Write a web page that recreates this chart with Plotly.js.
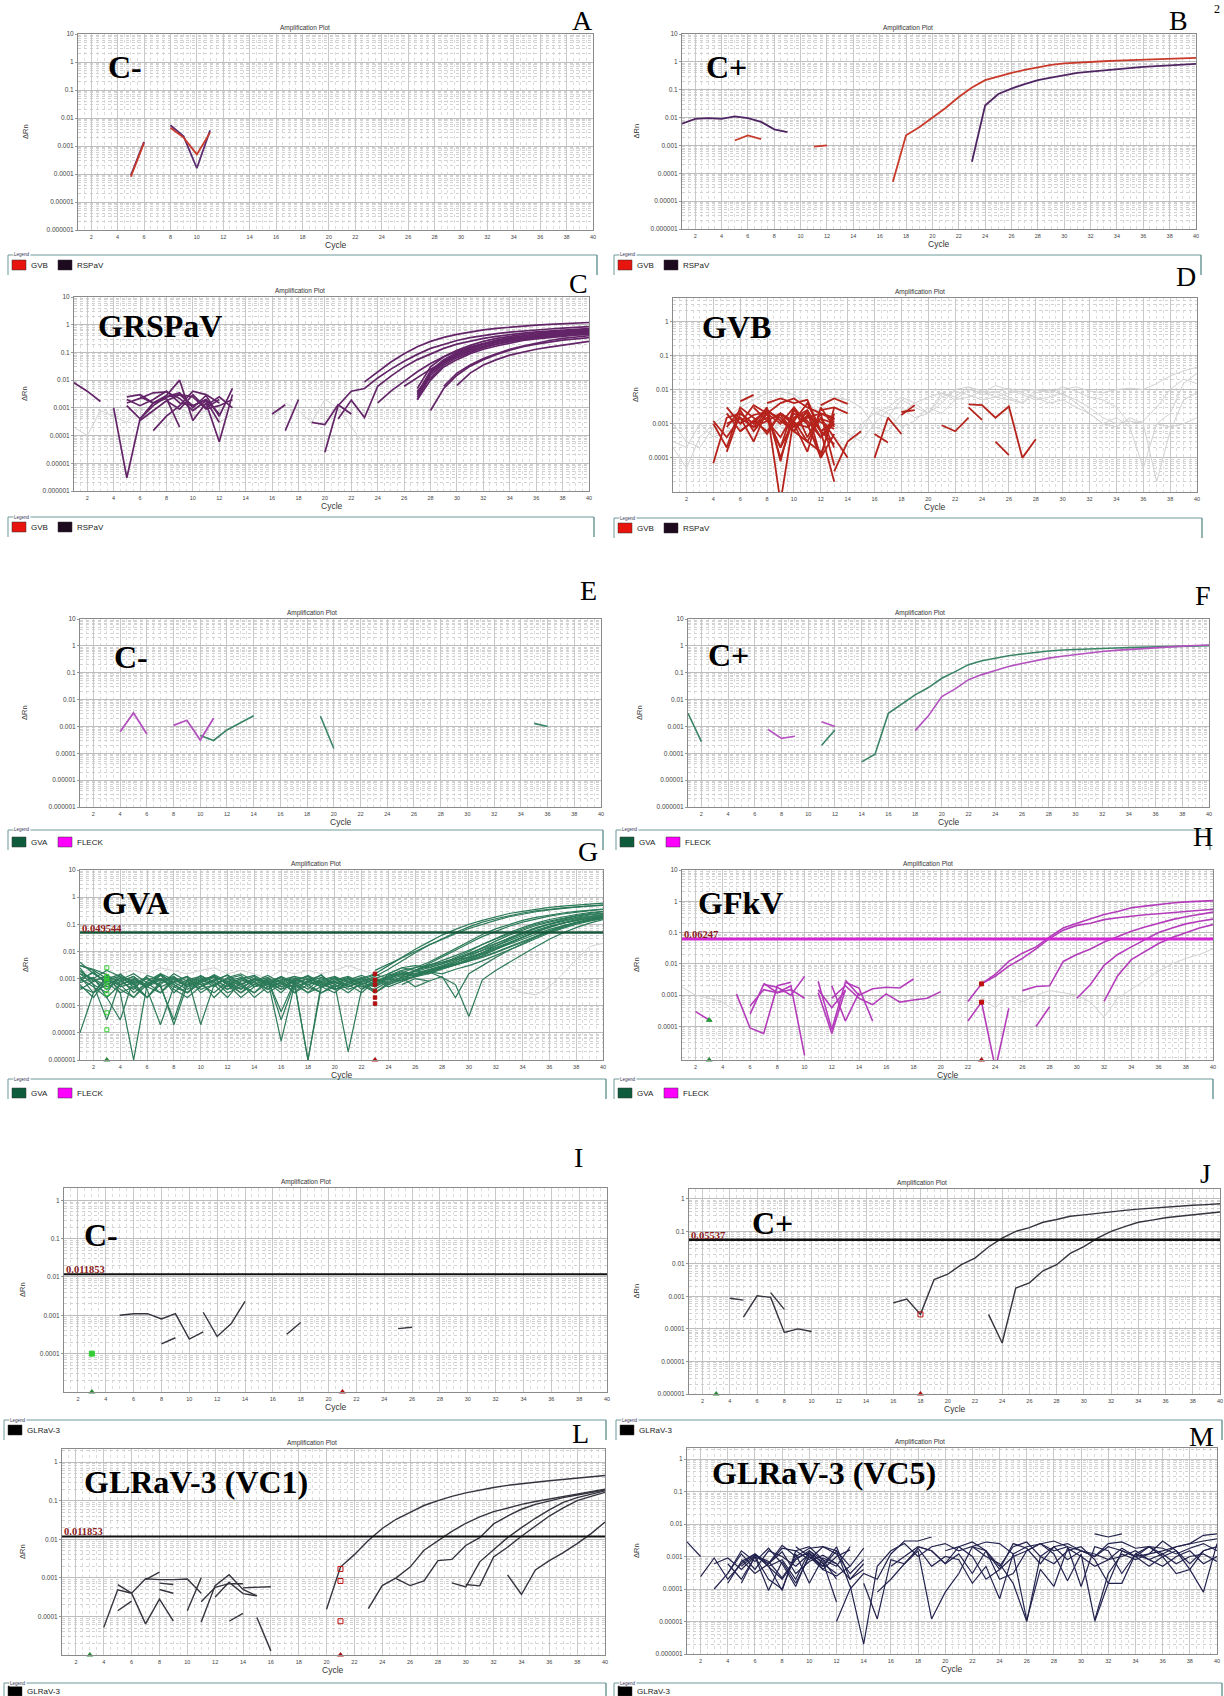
<!DOCTYPE html>
<html><head><meta charset="utf-8">
<script src="https://cdn.plot.ly/plotly-3.0.1.min.js"></script>
<style>body{margin:0;background:#fff}#chart{width:1224px;height:1696px}</style>
</head><body><div id="chart"></div>
<script>
// ================= DATA =================
const CYCLES=[1,2,3,4,5,6,7,8,9,10,11,12,13,14,15,16,17,18,19,20,21,22,23,24,25,26,27,28,29,30,31,32,33,34,35,36,37,38,39,40];
const X_TICKS=[2,4,6,8,10,12,14,16,18,20,22,24,26,28,30,32,34,36,38,40];
const Y_TICKS_FULL=[10,1,0.1,0.01,0.001,0.0001,0.00001,0.000001];
const Y_TEXT_FULL=['10','1','0.1','0.01','0.001','0.0001','0.00001','0.000001'];
const Y_TICKS_SHORT=[10,1,0.1,0.01,0.001,0.0001];
const Y_TEXT_SHORT=['10','1','0.1','0.01','0.001','0.0001'];

// Panel A (C-, GVB / RSPaV)
const A_GVB=[{s:5,v:[8e-5,1.3e-3]},{s:8,v:[4.5e-3,2e-3,5e-4,3e-3]}];
const A_RSPAV=[{s:5,v:[9e-5,1.4e-3]},{s:8,v:[5.5e-3,2.2e-3,1.6e-4,3.6e-3]}];
// Panel B (C+)
const B_GVB=[{s:5,v:[1.5e-3,2.3e-3,1.7e-3]},{s:11,v:[9e-4,1e-3]},
 {s:17,v:[5e-5,2.3e-3,4.5e-3,1e-2,0.022,0.055,0.12,0.22,0.3,0.4,0.52,0.65,0.78,0.88,0.95,1.0,1.05,1.1,1.15,1.2,1.25,1.3,1.34,1.38]}];
const B_RSPAV=[{s:1,v:[6e-3,9e-3,9.5e-3,9e-3,1.1e-2,9.5e-3,7e-3,3.8e-3,3e-3]},
 {s:23,v:[2.6e-4,0.027,0.07,0.11,0.16,0.22,0.27,0.33,0.4,0.45,0.5,0.55,0.6,0.66,0.7,0.74,0.78,0.85]}];
// Panel C (GRSPaV samples)
const C_RSPAV=[
 {s:1,v:[8e-3,4e-3,1.7e-3]},
 {s:4,v:[1e-3,3e-6,4e-4,1.5e-3,2.5e-3,3e-3,1.2e-3,2e-3,6e-4]},
 {s:5,v:[1.5e-3,2.2e-3,3.5e-3,3.8e-3,2.2e-3,8e-4,1.8e-3,3e-4]},
 {s:5,v:[2.5e-3,3e-3,1.5e-3,2.8e-3,1e-2,3.5e-4,1.5e-3,6e-5,3e-3]},
 {s:5,v:[1.2e-3,4e-4,1.2e-3,2.5e-3,3.5e-3,1e-3,2.8e-3,5e-4,5e-3]},
 {s:5,v:[2e-3,1.2e-3,2e-3,4e-3,1.5e-3,1.2e-3,2e-3,6e-4]},
 {s:6,v:[3.5e-4,8e-4,1.8e-3,3e-3,2.5e-3,9e-4,1.2e-3,2e-3]},
 {s:7,v:[1.5e-4,5e-4,1.2e-3,4e-3,3e-3,1.5e-3]},
 {s:6,v:[2.5e-3,1.5e-3,2.2e-3,2e-4]},
 {s:8,v:[1.8e-3,9e-4,3e-3,1e-3,2e-3]},
 {s:11,v:[1.2e-3,2.5e-3,1e-3]},
 {s:16,v:[6e-4,1.3e-3]},
 {s:17,v:[1.5e-4,2e-3]},
 {s:19,v:[3e-4,2.5e-4,1.3e-3,6e-4]},
 {s:23,v:[8.7e-3,0.02,0.045,0.09,0.16,0.25,0.35,0.45,0.55,0.65,0.74,0.82,0.9,0.97,1.03,1.09,1.14,1.2]},
 {s:20,v:[2.5e-5,1.2e-3,4e-3,5e-3,0.012,0.025,0.048,0.085,0.14,0.2,0.27,0.34,0.41,0.48,0.54,0.6,0.65,0.7,0.75,0.8,0.85]},
 {s:21,v:[4e-4,1.9e-3,4.5e-4,6e-3,0.014,0.03,0.055,0.09,0.14,0.2,0.26,0.32,0.38,0.44,0.5,0.55,0.6,0.64,0.68,0.72]},
 {s:24,v:[1.5e-3,4e-3,9e-3,0.02,0.04,0.07,0.11,0.16,0.21,0.27,0.32,0.37,0.42,0.47,0.52,0.56,0.6]},
 {s:26,v:[6e-3,0.012,0.025,0.045,0.075,0.11,0.15,0.2,0.25,0.3,0.34,0.38,0.42,0.46,0.5]},
 {s:27,v:[5e-3,0.03,0.07,0.12,0.18,0.25,0.32,0.39,0.45,0.51,0.56,0.61,0.66,0.7]},
 {s:27,v:[3e-3,0.022,0.055,0.1,0.15,0.21,0.28,0.34,0.4,0.46,0.51,0.56,0.6,0.64]},
 {s:27,v:[2.5e-3,0.018,0.045,0.085,0.13,0.19,0.25,0.31,0.37,0.42,0.47,0.52,0.56,0.6]},
 {s:27,v:[2e-3,0.015,0.04,0.075,0.12,0.17,0.23,0.28,0.33,0.38,0.43,0.47,0.51,0.55]},
 {s:27,v:[4e-3,0.012,0.035,0.065,0.1,0.15,0.2,0.25,0.3,0.35,0.39,0.43,0.47,0.5]},
 {s:27,v:[2e-3,0.01,0.03,0.055,0.09,0.13,0.17,0.22,0.27,0.31,0.35,0.39,0.42,0.45]},
 {s:27,v:[3.5e-3,0.02,0.05,0.09,0.14,0.2,0.26,0.32,0.38,0.44,0.5,0.55,0.6,0.65]},
 {s:28,v:[8e-4,5e-3,0.015,0.032,0.055,0.085,0.12,0.16,0.2,0.24,0.28,0.31,0.34]},
 {s:29,v:[6e-3,0.018,0.035,0.06,0.09,0.13,0.17,0.22,0.27,0.32,0.36,0.4]},
 {s:30,v:[6.5e-3,0.018,0.035,0.055,0.08,0.105,0.13,0.155,0.18,0.21,0.25]}];
const C_FAINT=[
 {s:1,v:[2e-4,1e-4,8e-4,5e-4,3e-4,1e-3,6e-4,2e-4,1e-3,5e-4,8e-4,3e-4,6e-4]},
 {s:16,v:[4e-4,1.5e-3,8e-4,3e-4,2e-3,1e-3,2e-4,5e-5]}];
// Panel D (GVB samples)
const D_GVB=[
 {s:4,v:[1.2e-3,4e-4,1.5e-3,8e-4,2.5e-3,1.2e-3,6e-4,1.8e-3,4e-4,1e-3]},
 {s:4,v:[7e-5,1.5e-3,2e-3,1e-3,1.5e-3,2e-4,1.2e-3,3e-4,1.5e-4]},
 {s:5,v:[3e-3,1e-3,3.5e-3,2e-3,4e-3,5.5e-3,3e-3,2e-3,1.5e-3]},
 {s:5,v:[1.5e-4,2e-3,1e-3,3e-3,8e-5,2.5e-3,1.2e-3,4e-4,1.5e-3]},
 {s:5,v:[2e-3,6e-4,1.2e-3,6e-4,2e-3,1e-3,1.5e-4,3e-3,8e-4]},
 {s:5,v:[8e-4,2.5e-3,6e-4,2e-3,1e-3,3e-3,4e-4,2e-3,6e-5]},
 {s:6,v:[4.5e-3,7e-3]},
 {s:6,v:[1.5e-3,3e-4,2.5e-3,5e-6,1.5e-3,2e-3,6e-4,2.5e-4]},
 {s:6,v:[1e-3,1.8e-3,2.2e-3,1.5e-3,6e-4,2.5e-3,1e-4,5e-4]},
 {s:7,v:[3e-3,1.2e-3,4e-4,2e-3,1e-3,1e-4,3e-3]},
 {s:7,v:[6e-4,2e-3,1e-4,1.5e-3,2.5e-3,6e-4,2e-5]},
 {s:8,v:[4e-3,5.5e-3,4e-3,5e-3,6e-4,1.2e-3]},
 {s:8,v:[1.5e-3,2e-4,3e-3,1e-3,1.2e-4,2e-3]},
 {s:9,v:[1.8e-3,6e-4,3e-4,1.5e-3,2e-4]},
 {s:4,v:[1e-3,2e-4,3e-3,1.5e-3,5e-4,2e-3,1e-3,8e-4,1.4e-3,1e-3]},
 {s:9,v:[2e-3,1.2e-3,4e-3,6e-4,1e-3]},
 {s:5,v:[1e-3,1.5e-3,8e-4,1.2e-3,2e-3,9e-4,1.6e-3,1.1e-3,7e-4]},
 {s:6,v:[6e-4,1.2e-3,2.5e-3,1.2e-3,8e-4,1.5e-3,2e-3,1.3e-3]},
 {s:12,v:[3.5e-3,5.5e-3,3.8e-3]},
 {s:12,v:[2.5e-3,3e-3,2e-3]},
 {s:12,v:[1.5e-3,4e-4,1e-4]},
 {s:13,v:[4e-5,3e-4,6e-4]},
 {s:16,v:[1e-4,1.5e-3,5e-4]},
 {s:16,v:[5e-4,2.8e-4]},
 {s:18,v:[1.8e-3,3.5e-3]},
 {s:18,v:[2.2e-3,2.5e-3]},
 {s:21,v:[9e-4,6e-4,1.5e-3]},
 {s:23,v:[3.7e-3,3.5e-3,1.5e-3,3.2e-3,1e-4,3.5e-4]},
 {s:23,v:[3e-3,1.3e-3]},
 {s:25,v:[3e-4,1.2e-4]}];
const D_FAINT=[
 {s:1,v:[1e-3,3e-4,2e-4,8e-4,1.5e-3,3e-3,5e-3,8e-3,9e-3,7e-3,4e-3,2e-3,1e-3,5e-4,3e-4,1e-3,2.5e-3,3e-3,1.5e-3,2e-3,6e-3,9e-3,7e-3,5e-3,6e-3,8e-3,9e-3,1e-2,9e-3,1e-2,1.2e-2,9e-3,8e-3,1e-2,1.1e-2,1e-2,1.5e-2,2.5e-2,3.5e-2,4.5e-2]},
 {s:1,v:[3e-4,2e-4,1e-3,4e-4,6e-4,9e-4,2e-3,1.5e-3,8e-4,4e-4,1e-3,3e-3,6e-3,5e-3,3e-3,8e-4,6e-4,2e-3,4e-3,6e-3,8e-3,5e-3,6e-3,9e-3,8e-3,1.1e-2,8e-3,6e-3,4e-3,5e-3,3e-3,2e-3,1e-3,1.5e-3,8e-4,5e-5,1e-3,2e-3,1.5e-2,3e-2]},
 {s:1,v:[2e-4,5e-5,4e-4,1e-3,2e-3,1e-3,4e-4,6e-4,1e-3,2e-3,1.5e-3,8e-4,4e-4,2e-4,6e-4,3e-3,2e-3,8e-4,1.2e-3,3e-3,2e-3,5e-3,1e-2,8e-3,1.3e-2,1e-2,7e-3,5e-3,6e-3,8e-3,4e-3,2e-3,1e-3,8e-4,1.5e-3,1e-3,2e-5,6e-4,5e-3,8e-3]},
 {s:16,v:[2e-3,3e-3,6e-3,4e-3,2e-3,4e-3,1e-2,1.2e-2,9e-3,6e-3,5e-3,4e-3,8e-3,1e-2,7e-3,5e-3,3e-3,1.5e-3,1e-3,1.2e-3,1e-3,1e-3,8e-4,1e-3,1.5e-3]},
 {s:14,v:[3e-4,1e-3,2e-3,1.5e-3,5e-3,3e-3,2e-3,8e-3,6e-3,1.2e-2,7e-3,9e-3,6e-3,4e-3,1e-2,8e-3,1.2e-2,9e-3,6e-3,5e-3,3e-3,1e-3,1.2e-3,3e-3,1e-2,2e-2,1.5e-2]}];
// Panel E (C-, GVA / FLECK)
const E_GVA=[{s:10,v:[4.6e-4,3e-4,7.4e-4,1.4e-3,2.5e-3]},{s:19,v:[2.4e-3,1.5e-4]},{s:35,v:[1.3e-3,1e-3]}];
const E_FLECK=[{s:4,v:[6.3e-4,3.2e-3,5.2e-4]},{s:8,v:[1.1e-3,1.7e-3,3.1e-4,2e-3]}];
// Panel F (C+)
const F_GVA=[{s:1,v:[3.1e-3,2.7e-4]},{s:11,v:[2e-4,7.4e-4]},
 {s:14,v:[4.8e-5,9.3e-5,3.1e-3,6.7e-3,0.015,0.028,0.062,0.11,0.2,0.28,0.35,0.43,0.5,0.58,0.64,0.7,0.74,0.77,0.8,0.83,0.86,0.89,0.92,0.95,0.97,0.99,1.02]}];
const F_FLECK=[{s:7,v:[7.7e-4,3.6e-4,4.3e-4]},{s:11,v:[1.5e-3,1e-3]},
 {s:18,v:[7e-4,2.5e-3,0.013,0.025,0.055,0.085,0.12,0.17,0.22,0.28,0.35,0.41,0.48,0.55,0.62,0.68,0.74,0.8,0.86,0.92,0.98,1.03,1.08]}];
// Panel G (GVA samples)
const G_GVA=[
 {s:1,v:[4e-3,1.5e-3,8e-4,6e-4,1e-3,5e-4,3e-4,8e-4,1.2e-3,6e-4,9e-4,5e-4,1e-3,7e-4,4e-4,8e-4,1e-3,6e-4,3e-4,5e-4,7e-4,1e-3,1.5e-3,3e-3,6e-3,0.012,0.022,0.04,0.065,0.1,0.14,0.19,0.25,0.3,0.36,0.42,0.47,0.52,0.56,0.6]},
 {s:1,v:[3e-3,2e-3,1e-3,4e-4,2e-4,8e-4,1.5e-3,6e-4,3e-4,9e-4,1.2e-3,7e-4,3e-4,6e-4,1e-3,5e-4,8e-4,1.2e-3,6e-4,4e-4,5e-4,8e-4,1.2e-3,2.2e-3,4.5e-3,9e-3,0.017,0.03,0.05,0.08,0.12,0.16,0.21,0.26,0.31,0.36,0.4,0.44,0.48,0.52]},
 {s:1,v:[1e-3,5e-4,2e-4,3e-5,1e-3,6e-4,1.5e-3,9e-4,5e-4,1.1e-3,6e-4,2e-4,8e-4,1.2e-3,5e-4,7e-4,3e-4,9e-4,1.3e-3,6e-4,3e-4,7e-4,5e-4,9e-4,1.3e-3,2e-3,3.5e-3,6e-3,0.011,0.02,0.035,0.055,0.085,0.12,0.16,0.2,0.24,0.28,0.32,0.35]},
 {s:1,v:[2e-3,8e-4,1.2e-3,5e-4,7e-4,2e-4,6e-4,1.5e-3,8e-4,4e-4,6e-4,1e-3,5e-4,3e-4,9e-4,6e-5,8e-4,4e-4,1.1e-3,7e-4,6e-4,3e-4,8e-4,1.2e-3,1.6e-3,2.5e-3,4e-3,7e-3,0.013,0.024,0.042,0.068,0.1,0.14,0.18,0.22,0.26,0.3,0.33,0.36]},
 {s:1,v:[1e-5,3e-4,1.2e-3,8e-4,4e-4,1.3e-3,9e-4,5e-4,3e-4,7e-4,1.4e-3,8e-4,6e-4,1e-3,4e-4,7e-4,1.2e-3,9e-4,5e-4,3e-4,8e-4,1.1e-3,6e-4,1e-3,1.5e-3,1.8e-3,2.5e-3,3.5e-3,6e-3,0.01,0.018,0.03,0.05,0.075,0.11,0.15,0.19,0.23,0.27,0.3]},
 {s:1,v:[1.5e-3,1e-3,5e-4,8e-4,1.2e-3,4e-4,2e-5,5e-4,9e-4,6e-4,3e-4,8e-4,1.1e-3,5e-4,6e-4,9e-4,3e-4,6e-4,9e-4,1.2e-3,7e-4,5e-4,4e-4,8e-4,1.1e-3,1.6e-3,2.2e-3,3e-3,4.5e-3,8e-3,0.014,0.024,0.04,0.062,0.09,0.12,0.16,0.2,0.23,0.26]},
 {s:1,v:[8e-4,1.8e-3,6e-4,1e-3,3e-4,7e-4,1e-3,4e-4,2e-4,5e-4,9e-4,1.3e-3,6e-4,1e-3,8e-4,4e-4,6e-4,1e-6,7e-4,1e-3,5e-4,8e-4,1e-3,6e-4,9e-4,1.2e-3,1.5e-3,2.2e-3,3.2e-3,5.5e-3,9e-3,0.016,0.028,0.045,0.07,0.1,0.14,0.18,0.22,0.25]},
 {s:1,v:[2.5e-3,6e-4,3e-4,1.5e-3,6e-4,1e-3,5e-4,8e-4,1.2e-3,3e-4,6e-4,1e-3,7e-4,2e-4,5e-4,9e-4,1.2e-3,5e-4,3e-4,6e-4,1e-3,4e-4,7e-4,1.1e-3,1.5e-3,1.3e-3,2e-3,2.8e-3,4e-3,6.5e-3,0.011,0.019,0.032,0.05,0.075,0.105,0.14,0.17,0.2,0.23]},
 {s:1,v:[6e-4,2e-4,9e-4,1.2e-3,8e-4,5e-4,1.3e-3,7e-4,4e-4,8e-4,1.2e-3,6e-4,3e-4,8e-4,1.3e-3,7e-4,5e-4,8e-4,1.1e-3,6e-4,2e-6,4e-4,9e-4,5e-4,8e-4,1.2e-3,1.8e-3,2.5e-3,3.2e-3,4.5e-3,7e-3,0.012,0.02,0.033,0.052,0.078,0.11,0.14,0.17,0.2]},
 {s:1,v:[1.2e-3,3e-4,6e-4,9e-4,1.5e-3,7e-4,3e-4,1e-3,6e-4,1.3e-3,7e-4,4e-4,9e-4,6e-4,1e-3,3e-5,7e-4,1e-3,6e-4,8e-4,4e-4,6e-4,1e-3,7e-4,1.1e-3,1.4e-3,2e-3,2.6e-3,3.4e-3,4.8e-3,6.5e-3,9.5e-3,0.015,0.024,0.038,0.058,0.085,0.115,0.15,0.18]},
 {s:1,v:[7e-4,1.1e-3,2e-4,6e-4,9e-4,5e-4,1.4e-3,3e-4,8e-4,1e-3,5e-4,1.1e-3,1.5e-3,8e-4,3e-4,6e-4,9e-4,7e-4,1.4e-3,4e-4,7e-4,1e-3,5e-4,1.3e-3,2e-3,2.5e-3,3e-3,4e-3,5.5e-3,7.5e-3,0.011,0.016,0.025,0.04,0.06,0.085,0.11,0.14,0.17,0.2]},
 {s:1,v:[4e-4,8e-4,1.3e-3,3e-4,5e-4,1e-3,6e-4,2e-5,6e-4,9e-4,1.2e-3,7e-4,4e-4,1e-3,6e-4,1.1e-3,6e-4,3e-4,5e-4,9e-4,1.2e-3,7e-4,5e-4,1.5e-3,2.5e-3,3e-3,2.5e-3,3.5e-3,5e-3,6e-3,8e-3,0.012,0.018,0.028,0.043,0.065,0.09,0.12,0.155,0.19]},
 {s:1,v:[1.8e-3,9e-4,4e-4,1.1e-3,6e-4,2e-4,8e-4,1.1e-3,7e-4,5e-4,8e-4,3e-4,5e-4,8e-4,1.1e-3,5e-4,8e-4,1.3e-3,7e-4,4e-4,6e-4,1e-3,3e-4,6e-4,1e-3,1.2e-3,1.8e-3,1.5e-3,2.2e-3,3e-3,4.5e-3,7e-3,0.011,0.018,0.03,0.048,0.07,0.1,0.13,0.16]},
 {s:1,v:[1e-3,1.6e-3,7e-4,3e-4,1e-6,6e-4,9e-4,1.2e-3,5e-4,8e-4,2e-4,6e-4,1e-3,1.3e-3,7e-4,4e-4,1e-3,6e-4,8e-4,5e-4,9e-4,1.3e-3,8e-4,1.2e-3,1.8e-3,1.5e-3,2e-3,2.6e-3,3.5e-3,5e-3,8e-3,0.013,0.021,0.034,0.053,0.08,0.11,0.15,0.19,0.23]},
 {s:1,v:[5e-4,3e-4,1e-3,1.4e-3,7e-4,1.1e-3,5e-4,3e-5,9e-4,1.2e-3,8e-4,1.4e-3,6e-4,3e-4,7e-4,1.2e-3,4e-4,8e-4,5e-4,1.1e-3,8e-4,5e-4,7e-4,1e-3,8e-4,2e-3,2.8e-3,3.8e-3,5.5e-3,8.5e-3,0.013,0.02,0.031,0.047,0.07,0.1,0.13,0.16,0.19,0.22]},
 {s:1,v:[3e-3,2.2e-3,1.4e-3,6e-4,2e-4,6e-4,1e-3,7e-4,1.2e-3,2e-5,6e-4,1e-3,1.3e-3,5e-4,8e-4,1.1e-3,7e-4,3e-4,8e-4,1.1e-3,5e-4,9e-4,1.4e-3,1e-3,1.5e-3,1.2e-3,1.7e-3,2.3e-3,3.1e-3,4.2e-3,6e-3,9e-3,0.014,0.022,0.034,0.052,0.077,0.11,0.14,0.17]},
 {s:22,v:[6e-4,1e-3,1.5e-3,1.2e-3,2e-3,3e-3,4.5e-3,7e-3,0.011,0.018,0.029,0.045,0.068,0.1,0.13,0.17,0.21,0.25,0.29]},
 {s:24,v:[1.5e-3,2.5e-3,2e-3,1.5e-3,2.5e-3,4e-3,6e-3,9e-3,0.014,0.022,0.035,0.055,0.08,0.11,0.14,0.17,0.2]},
 {s:25,v:[6e-4,1e-3,8e-4,1.2e-3,2e-4,1.5e-3,3e-3,6e-3,0.011,0.02,0.034,0.055,0.08,0.11,0.14,0.17]},
 {s:23,v:[2e-3,3.5e-3,6e-3,0.01,0.017,0.028,0.045,0.07,0.1,0.14,0.19,0.24,0.29,0.34,0.39,0.43,0.47,0.5]},
 {s:1,v:[1.5e-3,6e-4,3e-5,8e-4,1.2e-3,5e-4,9e-4,6e-4,3e-4,7e-4,1.1e-3,4e-4,6e-4,1e-3,7e-4,3e-4,9e-4,1.2e-3,5e-4,7e-4,1e-3,6e-4]},
 {s:2,v:[1e-3,2e-3,1.2e-3,5e-4,2e-4,7e-4,1e-3,5e-4,8e-4,1.3e-3,6e-4,2e-4,5e-4,9e-4,5e-6,6e-4,1e-3]},
 {s:12,v:[8e-4,4e-4,1e-3,6e-4,1.2e-3,7e-4,1e-6,5e-4,8e-4,1.1e-3,6e-4,3e-4,7e-4,1.1e-3,5e-4,8e-4]},
 {s:26,v:[1.2e-3,1.8e-3,1.1e-3,6e-4,4e-5,9e-4,2e-3,4e-3,8e-3,0.015,0.028,0.048,0.075,0.11,0.15]}];
const G_FAINT=[
 {s:1,v:[2e-3,1.5e-3,1e-3,1.5e-3,2e-3,1.5e-3,2.5e-3,2e-3,1.5e-3,2e-3,2.5e-3,1.5e-3,2e-3,1.5e-3,1e-3,2e-3,1.5e-3,2e-3,1.5e-3,2e-3,3e-3,2e-3,1.5e-3]},
 {s:33,v:[5e-4,3e-4,2.5e-4,5e-4,1.5e-3,5e-3,0.015,0.02]}];
const G_THRESHOLD=0.049544;
const G_START_MARKS=[2.5e-3,1.2e-3,1e-3,8e-4,5e-4,2.8e-4,5.5e-5,1.3e-5];
const G_END_MARKS=[1.5e-3,9e-4,6e-4,3.5e-4,2e-4,1.2e-4];
// Panel H (GFkV samples, FLECK)
const H_FLECK=[
 {s:22,v:[6.3e-4,2.3e-3,4.6e-3,0.012,0.022,0.035,0.073,0.14,0.2,0.27,0.38,0.47,0.62,0.7,0.8,0.88,0.96,1.0,1.05]},
 {s:23,v:[2.3e-3,4e-3,8.5e-3,0.015,0.03,0.065,0.12,0.17,0.2,0.26,0.3,0.34,0.37,0.4,0.44,0.48,0.52,0.56]},
 {s:26,v:[1.4e-3,1.9e-3,2e-3,0.012,0.02,0.03,0.05,0.075,0.11,0.15,0.2,0.26,0.32,0.39,0.45]},
 {s:30,v:[8e-4,2.2e-3,9e-3,0.02,0.035,0.06,0.1,0.14,0.19,0.23,0.27]},
 {s:32,v:[6.3e-4,4.2e-3,0.0137,0.025,0.045,0.07,0.1,0.14,0.18]},
 {s:22,v:[1.5e-4,6e-4,5e-6]},
 {s:24,v:[4e-6,3.8e-4]},
 {s:27,v:[1e-4,4.3e-4]},
 {s:5,v:[1.1e-3,9e-5,6e-5,2e-3,2.6e-3]},
 {s:6,v:[2.5e-4,2.2e-3,1.8e-3,1e-3,4e-3]},
 {s:6,v:[4.5e-4,1.5e-3,1.2e-3,1.5e-3,8e-4]},
 {s:7,v:[2.4e-3,1.2e-3,2e-3,1.2e-5]},
 {s:11,v:[2.8e-3,8e-5,2.6e-3,1.7e-3,1.5e-4]},
 {s:11,v:[1.5e-3,4e-4,1.4e-3]},
 {s:12,v:[2e-3,1.5e-4,1.2e-3]},
 {s:12,v:[8e-4,2e-3,8e-4,5e-4,1.1e-3,6e-4,7e-4,8e-4,1.3e-3]},
 {s:13,v:[3e-3,1e-3,1.6e-3,1.8e-3,1.7e-3,3.3e-3]},
 {s:11,v:[1.2e-3,6e-5,1.5e-3]},
 {s:2,v:[3e-4,1.6e-4]}];
const H_FAINT=[
 {s:1,v:[1.8e-3,1e-3,8e-4,6e-4,3e-4]},
 {s:23,v:[8e-4,4e-4,1e-3,6e-4,1e-3,1.4e-3,1.2e-3,1e-3,6e-4,2e-4,8e-4,1.5e-3,3e-3,6e-3,0.01,0.015,0.02,0.03]}];
const H_THRESHOLD=0.06247;
const H_END_MARKS=[2.3e-3,6e-4];
const H_START_MARKS=[1.6e-4];
// Panel I (C-, GLRaV-3)
const I_GL=[{s:5,v:[1e-3,1.1e-3,1.1e-3,8e-4,1.1e-3,2.4e-4,3.7e-4]},{s:11,v:[1.2e-3,2.8e-4,6e-4,2.3e-3]},
 {s:8,v:[1.8e-4,2.6e-4]},{s:17,v:[3.2e-4,6.5e-4]},{s:25,v:[4.5e-4,4.9e-4]}];
const I_THRESHOLD=0.011853;
const I_START_MARKS=[1e-4];
// Panel J (C+, GLRaV-3)
const J_GL=[{s:4,v:[8.8e-4,7.7e-4]},{s:5,v:[2.3e-4,1.04e-3,9.3e-4,7.8e-5,1e-4,8.3e-5]},{s:7,v:[1.3e-3,4e-4]},
 {s:16,v:[6.3e-4,8.3e-4,2.8e-4,3.3e-3,4.8e-3,9.4e-3,0.015,0.033,0.062,0.1,0.13,0.19,0.23,0.29,0.32,0.36,0.4,0.44,0.48,0.52,0.56,0.6,0.63,0.66,0.7]},
 {s:23,v:[2.8e-4,3.7e-5,1.8e-3,2.6e-3,6.1e-3,9.4e-3,0.021,0.034,0.062,0.1,0.14,0.19,0.22,0.26,0.29,0.32,0.35,0.39]}];
const J_THRESHOLD=0.05537;
const J_END_MARKS=[2.8e-4];
// Panel L (GLRaV-3, VC1)
const L_GL=[
 {s:20,v:[1.54e-4,1.9e-3,4e-3,9.3e-3,0.019,0.033,0.05,0.075,0.1,0.13,0.16,0.19,0.22,0.25,0.27,0.3,0.33,0.36,0.39,0.42,0.45]},
 {s:23,v:[1.6e-4,6.3e-4,1e-3,1.9e-3,5.2e-3,9.3e-3,0.016,0.026,0.038,0.052,0.066,0.08,0.095,0.11,0.13,0.15,0.17,0.2]},
 {s:25,v:[9.5e-4,6.3e-4,8.3e-4,2.8e-3,3e-3,6.9e-3,0.011,0.025,0.04,0.06,0.08,0.1,0.12,0.14,0.16,0.19]},
 {s:29,v:[7.4e-4,5.8e-4,2.6e-3,5.5e-3,0.011,0.02,0.035,0.058,0.09,0.12,0.15,0.18]},
 {s:30,v:[6.7e-4,6.2e-4,3.5e-3,6.2e-3,0.012,0.022,0.04,0.065,0.1,0.13,0.165]},
 {s:33,v:[1.2e-3,3.7e-4,1.6e-3,2.8e-3,4.5e-3,7.7e-3,0.014,0.028]},
 {s:4,v:[5.2e-5,4.9e-4,4e-4,6.4e-5,2.8e-4,7.5e-5]},
 {s:5,v:[6.7e-4,4e-4,9.5e-4,9e-4,9e-4,9.3e-4,4e-4]},
 {s:5,v:[1.4e-4,2.5e-4]},
 {s:7,v:[9e-4,1.4e-3]},
 {s:8,v:[7.3e-4,6.7e-4]},
 {s:8,v:[5e-4,4e-4]},
 {s:10,v:[1.4e-4,1e-3]},
 {s:11,v:[7.2e-5,6.3e-4,1.2e-3,5e-4,3.4e-4]},
 {s:11,v:[2.4e-4,5.7e-4,7.1e-4,7e-4]},
 {s:12,v:[3.2e-4,7.7e-4,3.9e-4,3.4e-4]},
 {s:14,v:[5.5e-4,5.7e-4,5.9e-4]},
 {s:13,v:[7.5e-5,1.2e-4]},
 {s:15,v:[9.4e-5,1.28e-5]}];
const L_THRESHOLD=0.011853;
const L_END_MARKS=[1.7e-3,8.3e-4,7.5e-5];
// Panel M (GLRaV-3, VC5)
const M_GL=[
 {s:1,v:[2.8e-3,1e-3]},
 {s:2,v:[2.4e-4,9e-4,2e-4,6e-4,1.2e-3,5e-4,2e-4,8e-4,1.5e-3,6e-4,3e-4]},
 {s:3,v:[1e-4,3e-4,1.5e-3,7e-4,1.8e-3,6e-4,1.2e-4,1.2e-3,5e-4,1.5e-3,1.2e-4]},
 {s:4,v:[1.5e-4,7e-4,1.2e-3,6e-4,2.2e-3,1e-3,1.8e-3,2e-3,1.2e-3,3e-4,8e-4]},
 {s:4,v:[6e-4,2e-4,1e-3,9e-5,7e-4,1.5e-4,1e-3,4e-4,2.5e-4,5e-4]},
 {s:4,v:[3e-4,1.2e-3,4e-4,1.5e-3,1e-3,5e-4,1.2e-3,7e-4,4e-5]},
 {s:5,v:[8e-4,3e-4,6e-4,1.8e-3,1.5e-3,8e-4,2e-3,1.5e-3,5e-4,1.8e-3]},
 {s:5,v:[1.5e-4,1e-3,2e-4,1e-4,1.2e-3,1.5e-4,9e-4,6e-4,2e-4,4e-4]},
 {s:6,v:[1.2e-3,5e-4,9e-5,1.5e-3,2e-3,8e-4,2e-4]},
 {s:9,v:[2e-3,1e-3,5e-4,2e-3,2e-4,6e-4]},
 {s:7,v:[5e-4,8e-4,2e-4,1.5e-3,8e-4,5e-4,2e-3]},
 {s:3,v:[6e-4,9e-4,4e-4,1e-3,6e-4,1.4e-3,3e-4,7e-4,1.1e-3,6e-4]},
 {s:5,v:[5e-4,1.1e-3,7e-4,2.2e-4,9e-4,1.3e-3,4e-4,1e-3,1.6e-3]},
 {s:12,v:[1e-5,1e-4,3e-4,2e-4,1.2e-3,3e-3,3e-3,4e-3]},
 {s:13,v:[1.3e-4,2e-6,5e-4,1.5e-3,2.5e-3,1e-3,2e-3,2.5e-3,1.5e-3,2e-3,2.8e-3,2.5e-3,1.2e-3,2e-3,2.5e-3,3e-3,2e-3,1.5e-3,1e-3,2e-3,1.5e-3,1e-3,1.2e-3,1.5e-3,2e-3,2.5e-3,3e-3,3.5e-3]},
 {s:14,v:[1.5e-4,1.2e-5,8e-4,6e-4,1.5e-3,1.2e-5,8e-5,3e-4,2e-3,1e-3,6e-4,1.5e-4,1e-5,1e-3,6e-4,1.5e-3,2e-3,8e-4,1.5e-4,1.5e-3,1e-3,2e-3,1.2e-3,6e-4,1e-3,1.2e-3,7e-4]},
 {s:15,v:[8e-5,2e-4,6e-4,1.8e-3,5e-4,1e-3,8e-4,1.5e-4,5e-4,5e-5,1.2e-3,1.1e-5,4e-4,1.2e-4,1.8e-3,1e-3,5e-4,8e-4,1.8e-3,1e-3,5e-4,1e-3,3e-4,4e-4,1.5e-3,2e-3]},
 {s:16,v:[5e-4,1e-3,2e-3,1.5e-3,6e-4,1.2e-3,3e-4,1.5e-3,2e-4,3e-4,1.5e-3,2.5e-3,1.2e-3,1.8e-4,1.2e-3,1.1e-5,3e-4,1.2e-3,8e-4,1.2e-3,3e-3,1.5e-3,6e-4,1.5e-3,2e-3]},
 {s:18,v:[2e-3,1.5e-3,6e-4,2e-3,2.8e-3,1.5e-3,5e-4,2e-3,2.8e-3,1e-3,2e-3,8e-4,1.5e-3,1.2e-3,8e-4,1e-3,1.5e-3,8e-4,1.2e-3,2e-3,2.5e-3,4.5e-3,5e-3]},
 {s:20,v:[1.5e-3,2e-3,1e-3,2e-4,4e-4,1e-3,1.5e-3,2.5e-3,1.5e-3,2e-3,1.2e-4,2e-3,1.5e-3,3e-4,1.2e-3,2e-3,1.8e-3,1.2e-3,1.8e-3,2.5e-3,1.5e-3]},
 {s:22,v:[2e-3,1.5e-3,4e-4,2.5e-3,1.8e-3,6e-4,2e-3,2.5e-3,1.5e-3,1e-3,2.5e-3,2.8e-3,1.8e-3,2e-3,1e-3,1.5e-3,4e-4,8e-5,2.5e-3]},
 {s:31,v:[5e-3,4e-3,5e-3]},
 {s:31,v:[1e-5,1.5e-4,1.5e-4,1.2e-3,8e-4,5e-4,1e-3,1.5e-3,6e-4,1e-3]}];

// ================= STYLE / LAYOUT =================
const W=1224,H=1696;
const COL={GVB:'#e8140e',RSPaV:'#1e0a1e',GVA:'#0e5c3c',FLECK:'#ff00ff','GLRaV-3':'#000000'};
const FAINT='#d2d2d2';

const panels=[
 {ax:1,x0:78,x1:593,y0:34,y1:230,yr:[-6,1],full:true,tx:305,letter:['A',582,20],name:['C-',106,67],leg:{x0:8,x1:597,y:255,dy:10,items:['GVB','RSPaV']},dx:25,
  series:[[A_RSPAV,'#5d2d73',1.8],[A_GVB,'#c93a2a',1.8]]},
 {ax:2,x0:682,x1:1196,y0:34,y1:229,yr:[-6,1],full:true,tx:908,letter:['B',1178,20],name:['C+',704,67],leg:{x0:614,x1:1201,y:255,dy:10,items:['GVB','RSPaV']},dx:636,
  series:[[B_RSPAV,'#4f2463',1.8],[B_GVB,'#c93a2a',1.8]]},
 {ax:3,x0:74,x1:589,y0:297,y1:491,yr:[-6,1],full:true,tx:300,letter:['C',578,283],name:['GRSPaV',96,326],leg:{x0:8,x1:594,y:517,dy:10,items:['GVB','RSPaV']},dx:25,
  series:[[C_FAINT,FAINT,1],[C_RSPAV,'#632468',1.7]]},
 {ax:4,x0:673,x1:1197,y0:298,y1:492,yr:[-5,0.68],full:false,tx:920,letter:['D',1186,277],name:['GVB',700,327],leg:{x0:614,x1:1202,y:518,dy:10,items:['GVB','RSPaV']},dx:636,
  series:[[D_FAINT,FAINT,1],[D_GVB,'#b5231c',1.8]]},
 {ax:5,x0:80,x1:601,y0:619,y1:807,yr:[-6,1],full:true,tx:312,letter:['E',588,590],name:['C-',112,657],leg:{x0:8,x1:603,y:830,dy:12,items:['GVA','FLECK']},dx:25,
  series:[[E_GVA,'#3a8466',1.6],[E_FLECK,'#b453c0',1.8]]},
 {ax:6,x0:688,x1:1209,y0:619,y1:807,yr:[-6,1],full:true,tx:920,letter:['F',1203,596],name:['C+',706,655],leg:{x0:616,x1:1210,y:830,dy:12,items:['GVA','FLECK']},dx:640,
  series:[[F_GVA,'#3a8466',1.6],[F_FLECK,'#b453c0',1.6]]},
 {ax:7,x0:80,x1:603,y0:870,y1:1060,yr:[-6,1],full:true,tx:316,letter:['G',588,851],name:['GVA',100,903],leg:{x0:8,x1:606,y:1079,dy:14,items:['GVA','FLECK']},dx:25,
  series:[[G_FAINT,FAINT,1],[G_GVA,'#2c7a58',1.2]],thr:[G_THRESHOLD,'#17563a',2.5,'0.049544'],
  marks:[[3,G_START_MARKS,'#33cc33','square-open',4],[23,G_END_MARKS,'#b01010','square',3.5]],tri:[[3,'#2a8a3a'],[23,'#b01010']]},
 {ax:8,x0:682,x1:1213,y0:870,y1:1060,yr:[-5.07,1],full:false,tx:928,letter:['H',1203,836],name:['GFkV',696,903],leg:{x0:614,x1:1213,y:1079,dy:14,items:['GVA','FLECK']},dx:636,
  series:[[H_FAINT,FAINT,1],[H_FLECK,'#b43cbb',1.6]],thr:[H_THRESHOLD,'#d126d1',3,'0.06247'],
  marks:[[3,H_START_MARKS,'#2a9a3a','triangle-up',5],[23,H_END_MARKS,'#c01010','square',4]],tri:[[3,'#2a8a3a'],[23,'#b01010']]},
 {ax:9,x0:64,x1:607,y0:1188,y1:1392,yr:[-5,0.32],full:false,tx:306,letter:['I',578,1157],name:['C-',82,1235],leg:{x0:4,x1:606,y:1420,dy:10,items:['GLRaV-3']},dx:22,
  series:[[I_GL,'#34343e',1.4]],thr:[I_THRESHOLD,'#111111',2,'0.011853'],
  marks:[[3,I_START_MARKS,'#33cc33','square',5]],tri:[[3,'#2a8a3a'],[21,'#b01010']]},
 {ax:10,x0:689,x1:1220,y0:1189,y1:1394,yr:[-6,0.3],full:true,tx:922,letter:['J',1205,1173],name:['C+',750,1223],leg:{x0:616,x1:1222,y:1420,dy:10,items:['GLRaV-3']},dx:636,
  series:[[J_GL,'#34343e',1.4]],thr:[J_THRESHOLD,'#111111',2.5,'0.05537'],
  marks:[[18,J_END_MARKS,'#c01010','square-open',5]],tri:[[3,'#2a8a3a'],[18,'#b01010']]},
 {ax:11,x0:62,x1:605,y0:1449,y1:1655,yr:[-5,0.34],full:false,tx:312,letter:['L',580,1433],name:['GLRaV-3 (VC1)',82,1482],leg:{x0:4,x1:606,y:1683,dy:8,items:['GLRaV-3']},dx:22,
  series:[[L_GL,'#34343e',1.4]],thr:[L_THRESHOLD,'#111111',2,'0.011853'],
  marks:[[21,L_END_MARKS,'#c01010','square-open',5]],tri:[[3,'#2a8a3a'],[21,'#b01010']]},
 {ax:12,x0:687,x1:1217,y0:1448,y1:1654,yr:[-6,0.34],full:true,tx:920,letter:['M',1201,1436],name:['GLRaV-3 (VC5)',710,1473],leg:{x0:614,x1:1222,y:1683,dy:8,items:['GLRaV-3']},dx:636,
  series:[[M_GL,'#23234f',1.2]]}
];

const px=x=>x/W, py=y=>1-y/H;
const traces=[], shapes=[], annotations=[];
const layout={width:W,height:H,margin:{l:0,r:0,t:0,b:0},paper_bgcolor:'#fff',plot_bgcolor:'#fff',
  showlegend:false,hovermode:false,font:{family:'Liberation Sans, Arial, sans-serif',color:'#333'}};

function xs(s,n){return CYCLES.slice(s-1,s-1+n);}

panels.forEach(p=>{
  const xk='x'+(p.ax===1?'':p.ax), yk='y'+(p.ax===1?'':p.ax);
  const xname='xaxis'+(p.ax===1?'':p.ax), yname='yaxis'+(p.ax===1?'':p.ax);
  layout[xname]={domain:[px(p.x0),px(p.x1)],anchor:yk,range:[1,40],tickmode:'array',tickvals:X_TICKS,
    tickfont:{size:5.5,color:'#444'},ticks:'',ticklabelstandoff:1,
    showgrid:true,gridcolor:'#c9c9c9',gridwidth:1,zeroline:false,showline:true,mirror:true,linecolor:'#8a8a8a',linewidth:1,
    minor:{dtick:0.5,showgrid:true,gridcolor:'#dddddd',griddash:'dot',ticks:''},fixedrange:true};
  layout[yname]={domain:[py(p.y1),py(p.y0)],anchor:xk,type:'log',range:p.yr,tickmode:'array',
    tickvals:p.full?Y_TICKS_FULL:Y_TICKS_SHORT,ticktext:p.full?Y_TEXT_FULL:Y_TEXT_SHORT,
    tickfont:{size:6.5,color:'#444'},ticks:'outside',ticklen:2,tickcolor:'#999',
    showgrid:true,gridcolor:'#bdbdbd',gridwidth:1,zeroline:false,showline:true,mirror:true,linecolor:'#8a8a8a',linewidth:1,
    minor:{dtick:'D1',showgrid:true,gridcolor:'#d2d2d2',griddash:'dot',ticks:''},fixedrange:true};

  p.series.forEach(([list,color,width])=>{
    list.forEach(t=>traces.push({type:'scatter',mode:'lines',x:xs(t.s,t.v.length),y:t.v,xaxis:xk,yaxis:yk,
      line:{color:color,width:width},connectgaps:false,hoverinfo:'skip'}));
  });
  if(p.thr){
    const [v,c,w,label]=p.thr;
    traces.push({type:'scatter',mode:'lines',x:[CYCLES[0],CYCLES[CYCLES.length-1]],y:[v,v],xaxis:xk,yaxis:yk,line:{color:c,width:w},hoverinfo:'skip',cliponaxis:false});
    annotations.push({xref:xk,yref:yk,x:1,y:Math.log10(v),text:'<b>'+label+'</b>',showarrow:false,xanchor:'left',yanchor:'bottom',yshift:-3,
      font:{family:'Liberation Serif, Times New Roman, serif',size:10.5,color:'#8b1a1a'}});
  }
  (p.marks||[]).forEach(([cx,vals,c,sym,sz])=>{
    traces.push({type:'scatter',mode:'markers',x:vals.map(()=>cx),y:vals,xaxis:xk,yaxis:yk,
      marker:{symbol:sym,size:sz,color:c,line:{color:c,width:1}},hoverinfo:'skip',cliponaxis:false});
  });
  (p.tri||[]).forEach(([cx,c])=>{
    traces.push({type:'scatter',mode:'markers',x:[cx],y:[Math.pow(10,p.yr[0])],xaxis:xk,yaxis:yk,
      marker:{symbol:'triangle-up',size:6,color:c},hoverinfo:'skip',cliponaxis:false});
  });

  // texts
  annotations.push({xref:'paper',yref:'paper',x:px(p.tx),y:py(p.y0-6),text:'Amplification Plot',showarrow:false,xanchor:'center',yanchor:'middle',font:{size:6.5,color:'#333'}});
  annotations.push({xref:'paper',yref:'paper',x:px((p.x0+p.x1)/2),y:py(p.y1+15),text:'Cycle',showarrow:false,xanchor:'center',yanchor:'middle',font:{size:8.5,color:'#333'}});
  annotations.push({xref:'paper',yref:'paper',x:px(p.dx),y:py((p.y0+p.y1)/2),text:'ΔRn',textangle:-90,showarrow:false,xanchor:'center',yanchor:'middle',font:{size:7.5,color:'#333'}});
  annotations.push({xref:'paper',yref:'paper',x:px(p.letter[1]),y:py(p.letter[2]),text:p.letter[0],showarrow:false,xanchor:'center',yanchor:'middle',font:{family:'Liberation Serif, Times New Roman, serif',size:28,color:'#000'}});
  annotations.push({xref:'paper',yref:'paper',x:px(p.name[1]),y:py(p.name[2]),text:'<b>'+p.name[0]+'</b>',showarrow:false,xanchor:'left',yanchor:'middle',font:{family:'Liberation Serif, Times New Roman, serif',size:32,color:'#000'}});

  // legend box
  const L=p.leg, lc='#6f9a9a';
  shapes.push({type:'line',xref:'paper',yref:'paper',x0:px(L.x0),x1:px(L.x1),y0:py(L.y),y1:py(L.y),line:{color:lc,width:1}});
  shapes.push({type:'line',xref:'paper',yref:'paper',x0:px(L.x0),x1:px(L.x0),y0:py(L.y),y1:py(L.y+20),line:{color:lc,width:1}});
  shapes.push({type:'line',xref:'paper',yref:'paper',x0:px(L.x1),x1:px(L.x1),y0:py(L.y),y1:py(L.y+20),line:{color:lc,width:1.5}});
  annotations.push({xref:'paper',yref:'paper',x:px(L.x0+5),y:py(L.y),text:'Legend',showarrow:false,xanchor:'left',yanchor:'middle',bgcolor:'#fff',borderpad:0,font:{size:4.5,color:'#335'}});
  const cy=L.y+L.dy;
  L.items.forEach((name,i)=>{
    const sx=L.x0+4+i*46;
    shapes.push({type:'rect',xref:'paper',yref:'paper',x0:px(sx),x1:px(sx+14),y0:py(cy+5),y1:py(cy-5),fillcolor:COL[name],line:{color:'#333',width:0.5}});
    annotations.push({xref:'paper',yref:'paper',x:px(sx+17),y:py(cy),text:name,showarrow:false,xanchor:'left',yanchor:'middle',font:{size:8,color:'#222'}});
  });
});
annotations.push({xref:'paper',yref:'paper',x:px(1222),y:py(9),text:'2',showarrow:false,xanchor:'right',yanchor:'middle',font:{family:'Liberation Serif, serif',size:12,color:'#000'}});

layout.shapes=shapes; layout.annotations=annotations;
Plotly.newPlot('chart',traces,layout,{staticPlot:true,displayModeBar:false});
</script></body></html>
